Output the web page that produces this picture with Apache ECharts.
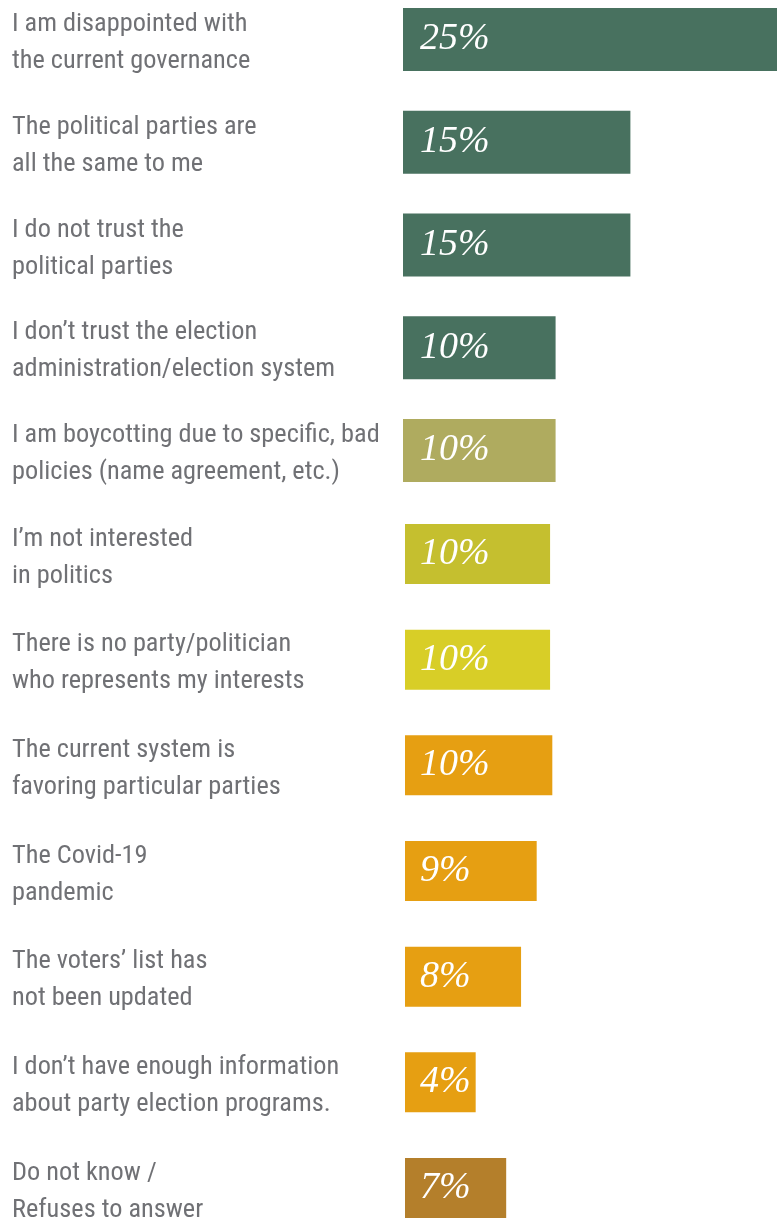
<!DOCTYPE html>
<html>
<head>
<meta charset="utf-8">
<script src="https://cdn.jsdelivr.net/npm/echarts@6/dist/echarts.min.js"></script>
<style>
html,body{margin:0;padding:0;background:#fff;}
#chart{width:777px;height:1222px;}
</style>
</head>
<body>
<div id="chart"></div>
<script>
// Categories (top to bottom)
const categoriesA = [
  "I am disappointed with\nthe current governance",
  "The political parties are\nall the same to me",
  "I do not trust the\npolitical parties",
  "I don\u2019t trust the election\nadministration/election system",
  "I am boycotting due to specific, bad\npolicies (name agreement, etc.)"
];
const categoriesB = [
  "I\u2019m not interested\nin politics",
  "There is no party/politician\nwho represents my interests",
  "The current system is\nfavoring particular parties",
  "The Covid-19\npandemic",
  "The voters\u2019 list has\nnot been updated",
  "I don\u2019t have enough information\nabout party election programs.",
  "Do not know /\nRefuses to answer"
];
// Values (bar lengths)
const valuesA = [25, 15.2, 15.2, 10.2, 10.2];
const valuesB = [9.75, 9.75, 9.9, 8.85, 7.8, 4.75, 6.8];
// Printed labels
const labelsA = ["25%", "15%", "15%", "10%", "10%"];
const labelsB = ["10%", "10%", "10%", "9%", "8%", "4%", "7%"];
// Bar colours
const colorsA = ["#48715f", "#48715f", "#48715f", "#48715f", "#afab5f"];
const colorsB = ["#c5bf2f", "#d8ce27", "#e69f12", "#e69f12", "#e69f12", "#e69f12", "#b47f2b"];

const catFont = "'Roboto Condensed','Liberation Sans Narrow',sans-serif";
const valFont = "'Liberation Serif','DejaVu Serif',serif";

function mkData(vals, labels, colors) {
  return vals.map((v, i) => ({
    value: v,
    itemStyle: { color: colors[i] },
    label: { formatter: labels[i] }
  }));
}

const chart = echarts.init(document.getElementById('chart'), null, { renderer: 'canvas' });
const bandA = 102.75, bandB = 105.67;
const axisLabelBase = {
  align: 'left',
  fontFamily: catFont,
  fontSize: 26.3,
  fontWeight: 'normal',
  lineHeight: 37,
  color: '#707175',
  formatter: function (v) {
    return '{s| }\n' + v.split('\n').map(function (l) { return '{t|' + l + '}'; }).join('\n');
  },
  rich: {
    s: { fontSize: 2, lineHeight: 7 },
    t: { fontFamily: catFont, fontSize: 26.3, lineHeight: 37, color: '#707175' }
  }
};
const valLabel = { show: true, position: 'insideLeft', color: '#ffffff',
  fontFamily: valFont, fontStyle: 'italic', fontSize: 38 };
chart.setOption({
  backgroundColor: '#ffffff',
  animation: false,
  grid: [
    { left: 403, right: 0, top: 39.5, height: bandA * 4, containLabel: false, outerBoundsMode: 'none' },
    { left: 405, right: 0, top: 554, height: bandB * 6, containLabel: false, outerBoundsMode: 'none' }
  ],
  xAxis: [
    { type: 'value', gridIndex: 0, min: 0, max: 25, show: false },
    { type: 'value', gridIndex: 1, min: 0, max: 25, show: false }
  ],
  yAxis: [
    { type: 'category', gridIndex: 0, inverse: true, boundaryGap: false, data: categoriesA,
      axisLine: { show: false }, axisTick: { show: false }, splitLine: { show: false },
      axisLabel: Object.assign({}, axisLabelBase, { margin: 391 }) },
    { type: 'category', gridIndex: 1, inverse: true, boundaryGap: false, data: categoriesB,
      axisLine: { show: false }, axisTick: { show: false }, splitLine: { show: false },
      axisLabel: Object.assign({}, axisLabelBase, { margin: 393 }) }
  ],
  series: [
    { type: 'bar', xAxisIndex: 0, yAxisIndex: 0, barWidth: 63,
      data: mkData(valuesA, labelsA, colorsA),
      label: Object.assign({}, valLabel, { distance: 17 }) },
    { type: 'bar', xAxisIndex: 1, yAxisIndex: 1, barWidth: 60,
      data: mkData(valuesB, labelsB, colorsB),
      label: Object.assign({}, valLabel, { distance: 15 }) }
  ]
});
</script>
</body>
</html>
